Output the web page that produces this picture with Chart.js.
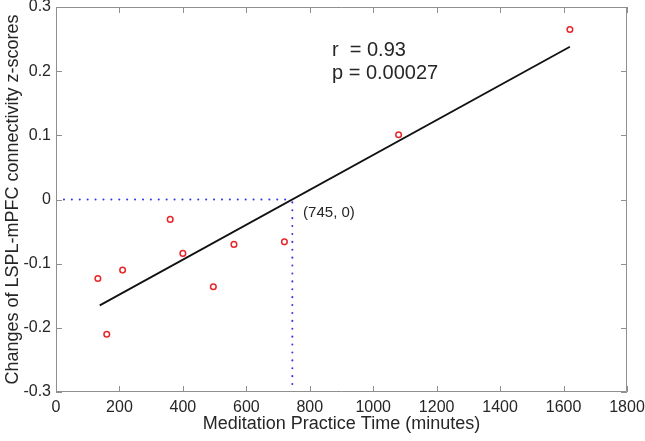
<!DOCTYPE html>
<html>
<head>
<meta charset="utf-8">
<script src="https://cdn.jsdelivr.net/npm/chart.js@4/dist/chart.umd.min.js"></script>
<style>
  html, body { margin: 0; padding: 0; background: #fff; }
  #wrap { width: 645px; height: 441px; }
</style>
</head>
<body>
<div id="wrap"><canvas id="chart" width="645" height="441"></canvas></div>
<script>
// values
const practiceMinutes = [132, 160, 210, 360, 400, 496, 561, 720, 1080, 1620];
const connectivityZ = [-0.123, -0.21, -0.11, -0.031, -0.084, -0.136, -0.070, -0.066, 0.101, 0.265];

const fitX = [138, 1620];
const fitY = [-0.165, 0.238];

const crossX = 745;
const crossY = 0;

const xTicks = [0, 200, 400, 600, 800, 1000, 1200, 1400, 1600, 1800];
const yTicks = [-0.3, -0.2, -0.1, 0, 0.1, 0.2, 0.3];

const statLines = ["r  = 0.93", "p = 0.00027"];
const crossLabel = "(745, 0)";

const FONT = "'Liberation Sans', Arial, Helvetica, sans-serif";
const TEXT = "#262626";
const AXIS = "#8f8f8f";

const pts = practiceMinutes.map((x, i) => ({ x: x, y: connectivityZ[i] }));
const fit = fitX.map((x, i) => ({ x: x, y: fitY[i] }));
const hDots = [{ x: xTicks[0], y: crossY }, { x: crossX, y: crossY }];
const vDots = [{ x: crossX, y: yTicks[0] }, { x: crossX, y: crossY }];

// MATLAB style box with inward ticks, plus the text notes
const boxPlugin = {
  id: "box",
  afterDatasetsDraw(chart) {
    const ctx = chart.ctx;
    const xs = chart.scales.x, ys = chart.scales.y;
    const a = chart.chartArea;
    const tl = 6;
    ctx.save();
    ctx.strokeStyle = AXIS;
    ctx.lineWidth = 1;
    ctx.beginPath();
    ctx.rect(a.left + 0.5, a.top + 0.5, a.right - a.left - 1, a.bottom - a.top - 1);
    xTicks.forEach(v => {
      const px = Math.round(xs.getPixelForValue(v)) + 0.5;
      ctx.moveTo(px, a.bottom); ctx.lineTo(px, a.bottom - tl);
      ctx.moveTo(px, a.top); ctx.lineTo(px, a.top + tl);
    });
    yTicks.forEach(v => {
      const py = Math.round(ys.getPixelForValue(v)) + 0.5;
      ctx.moveTo(a.left, py); ctx.lineTo(a.left + tl, py);
      ctx.moveTo(a.right, py); ctx.lineTo(a.right - tl, py);
    });
    ctx.stroke();

    ctx.fillStyle = TEXT;
    ctx.textBaseline = "middle";
    ctx.textAlign = "left";
    ctx.font = "20px " + FONT;
    ctx.fillText(statLines[0], xs.getPixelForValue(870), ys.getPixelForValue(0.232));
    ctx.fillText(statLines[1], xs.getPixelForValue(870), ys.getPixelForValue(0.196));
    ctx.font = "15px " + FONT;
    ctx.fillText(crossLabel, xs.getPixelForValue(779), ys.getPixelForValue(-0.021));
    ctx.restore();
  }
};

new Chart(document.getElementById("chart").getContext("2d"), {
  type: "scatter",
  data: {
    datasets: [
      {
        data: pts,
        pointStyle: "circle",
        pointRadius: 2.8,
        pointBorderWidth: 1.5,
        pointBorderColor: "#e8262a",
        pointBackgroundColor: "rgba(255,255,255,0)",
        order: 0
      },
      {
        type: "line",
        data: fit,
        showLine: true,
        borderColor: "#111111",
        borderWidth: 1.8,
        pointRadius: 0,
        fill: false,
        order: 1
      },
      {
        type: "line",
        data: hDots,
        showLine: true,
        borderColor: "#3535e8",
        borderWidth: 2,
        borderDash: [0.1, 7.8],
        borderCapStyle: "round",
        pointRadius: 0,
        fill: false,
        order: 2
      },
      {
        type: "line",
        data: vDots,
        showLine: true,
        borderColor: "#3535e8",
        borderWidth: 2,
        borderDash: [0.1, 7.8],
        borderCapStyle: "round",
        pointRadius: 0,
        fill: false,
        order: 2
      }
    ]
  },
  options: {
    responsive: false,
    animation: false,
    events: [],
    layout: { padding: { left: 0, top: 7, right: 18, bottom: 0 } },
    plugins: { legend: { display: false }, tooltip: { enabled: false } },
    scales: {
      x: {
        type: "linear",
        min: 0,
        max: 1800,
        afterBuildTicks: s => { s.ticks = xTicks.map(v => ({ value: v })); },
        afterFit: s => { s.height = 49; s.paddingLeft = 0; s.paddingRight = 0; },
        grid: { display: false, drawTicks: false },
        border: { display: false },
        ticks: {
          color: TEXT,
          font: { family: FONT, size: 16 },
          padding: 6,
          maxRotation: 0,
          callback: v => String(v)
        },
        title: {
          display: true,
          text: "Meditation Practice Time (minutes)",
          color: TEXT,
          font: { family: FONT, size: 18 },
          padding: { top: 0, bottom: 6 }
        }
      },
      y: {
        type: "linear",
        min: -0.3,
        max: 0.3,
        afterBuildTicks: s => { s.ticks = yTicks.map(v => ({ value: v })); },
        afterFit: s => { s.width = 56; s.paddingTop = 0; s.paddingBottom = 0; },
        grid: { display: false, drawTicks: false },
        border: { display: false },
        ticks: {
          color: TEXT,
          font: { family: FONT, size: 16 },
          padding: 5,
          callback: v => String(Number(v.toFixed(1)))
        },
        title: {
          display: true,
          text: "Changes of LSPL-mPFC connectivity z-scores",
          color: TEXT,
          font: { family: FONT, size: 18 },
          padding: { top: 2, bottom: 0 }
        }
      }
    }
  },
  plugins: [boxPlugin]
});
</script>
</body>
</html>
